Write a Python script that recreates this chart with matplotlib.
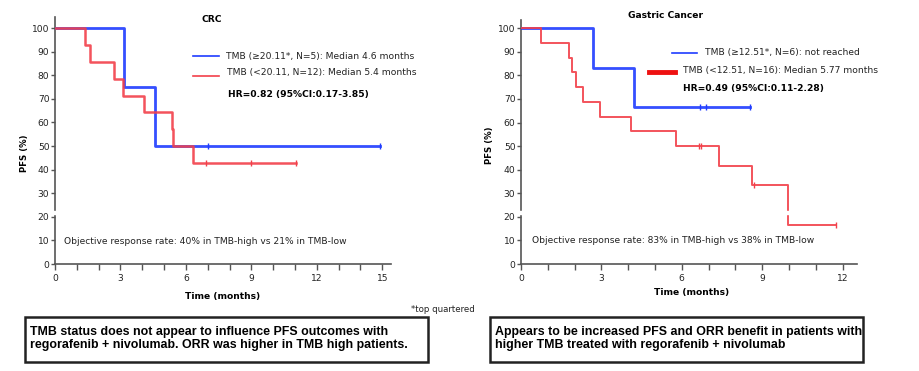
import numpy as np
import matplotlib.pyplot as plt
from matplotlib.patches import Rectangle

# ---------- data ----------
# CRC
crc_hi_t = [0, 3.15, 4.6, 14.9]
crc_hi_s = [100, 75, 50, 50]
crc_hi_cens = [7.0, 14.9]
crc_lo_t = [0, 1.38, 1.6, 2.72, 3.1, 4.1, 5.37, 5.43, 6.34, 11.04]
crc_lo_s = [100, 92.9, 85.7, 78.6, 71.4, 64.3, 57.1, 50, 42.9, 42.9]
crc_lo_cens = [6.9, 9.0, 11.04]

# Gastric
gc_hi_t = [0, 2.7, 4.23, 8.54]
gc_hi_s = [100, 83.3, 66.7, 66.7]
gc_hi_cens = [6.68, 6.89, 8.54]
gc_lo_t = [0, 0.73, 1.80, 1.89, 2.06, 2.30, 2.94, 4.10, 5.77, 7.39, 8.63, 9.96, 11.74]
gc_lo_s = [100, 93.75, 87.5, 81.25, 75, 68.75, 62.5, 56.25, 50, 41.7, 33.3, 16.7, 16.7]
gc_lo_cens = [6.66, 6.72, 8.7, 11.74]

crc_leg = ["TMB (\u226520.11*, N=5): Median 4.6 months",
           "TMB (<20.11, N=12): Median 5.4 months"]
crc_hr = "HR=0.82 (95%CI:0.17-3.85)"
crc_orr = "Objective response rate: 40% in TMB-high vs 21% in TMB-low"
gc_leg = ["TMB (\u226512.51*, N=6): not reached",
          "TMB (<12.51, N=16): Median 5.77 months"]
gc_hr = "HR=0.49 (95%CI:0.11-2.28)"
gc_orr = "Objective response rate: 83% in TMB-high vs 38% in TMB-low"
box_left = "TMB status does not appear to influence PFS outcomes with\nregorafenib + nivolumab. ORR was higher in TMB high patients."
box_right = "Appears to be increased PFS and ORR benefit in patients with\nhigher TMB treated with regorafenib + nivolumab"

BLUE = "#1f3cff"
RED = "#f2404a"
W, H = 919, 371
FS = 6.6
plt.rcParams['font.family'] = "DejaVu Sans"

fig = plt.figure(figsize=(W / 100, H / 100), dpi=100)


def px(x, y):
    """pixel coords (from top-left) -> figure fraction"""
    return x / W, 1 - y / H


def surv_at(t, ts, ss):
    i = np.searchsorted(ts, t, side='right') - 1
    return ss[i]


def km_panel(rect, xmax, ymax, xticks, hi, lo, lw_lo):
    ax = fig.add_axes(rect)
    for (t, s, cens), col, lw in [(hi, BLUE, 2.0), (lo, RED, lw_lo)]:
        ax.step(t, s, where='post', color=col, lw=lw, alpha=0.9, zorder=4)
        cy = [surv_at(c, t, s) for c in cens]
        ax.plot(cens, cy, ls='none', marker='|', ms=4, mew=1, color=col, zorder=4)
    ax.set_xlim(0, xmax)
    ax.set_ylim(0, ymax)
    ax.set_xticks(xticks)
    ax.set_xticks(np.arange(0, xmax, 1), minor=True)
    ax.set_yticks(np.arange(0, 101, 10))
    for sp in ['top', 'right']:
        ax.spines[sp].set_visible(False)
    for sp in ['left', 'bottom']:
        ax.spines[sp].set_color('#555555')
        ax.spines[sp].set_linewidth(1.2)
    ax.tick_params(axis='x', which='both', direction='out', length=4, width=1,
                   color='#555555', labelsize=FS, pad=3, labelcolor='#222222')
    ax.tick_params(axis='y', direction='out', length=3, width=1,
                   color='#555555', labelsize=FS, pad=1, labelcolor='#222222')
    # axis break near 20
    ax.axhspan(21, 22.4, xmin=-0.02, xmax=1, color='white', zorder=5, clip_on=False)
    return ax


ax1 = km_panel([55 / W, 1 - 264 / H, 336 / W, 247 / H], 15.4, 104.7,
               [0, 3, 6, 9, 12, 15],
               (crc_hi_t, crc_hi_s, crc_hi_cens),
               (crc_lo_t, crc_lo_s, crc_lo_cens), 1.8)
ax2 = km_panel([521 / W, 1 - 264 / H, 336 / W, 244 / H], 12.54, 103.5,
               [0, 3, 6, 9, 12],
               (gc_hi_t, gc_hi_s, gc_hi_cens),
               (gc_lo_t, gc_lo_s, gc_lo_cens), 1.4)

ax1.text(0.4, 9.4, crc_orr, fontsize=FS, va='center', color='#222222')
ax2.text(0.41, 9.8, gc_orr, fontsize=FS, va='center', color='#222222')

# titles and axis labels
fig.text(*px(212, 19), "CRC", fontsize=FS, weight='bold', ha='center', va='center')
fig.text(*px(665, 16), "Gastric Cancer", fontsize=FS, weight='bold', ha='center', va='center')
fig.text(*px(223, 296), "Time (months)", fontsize=FS, weight='bold', ha='center', va='center')
fig.text(*px(692, 293), "Time (months)", fontsize=FS, weight='bold', ha='center', va='center')
fig.text(*px(24, 153), "PFS (%)", fontsize=6.2, weight='bold', rotation=90, ha='center', va='center')
fig.text(*px(489, 145), "PFS (%)", fontsize=6.2, weight='bold', rotation=90, ha='center', va='center')

# legends
fig.add_artist(plt.Line2D([193 / W, 219 / W], [1 - 56 / H] * 2, color=BLUE, lw=1.2))
fig.add_artist(plt.Line2D([193 / W, 219 / W], [1 - 76 / H] * 2, color=RED, lw=1.2))
fig.text(*px(226, 56), crc_leg[0], fontsize=FS, va='center', color='#222222')
fig.text(*px(227, 72), crc_leg[1], fontsize=FS, va='center', color='#222222')
fig.text(*px(228, 94), crc_hr, fontsize=FS, weight='bold', va='center')

fig.add_artist(plt.Line2D([672 / W, 697 / W], [1 - 53 / H] * 2, color=BLUE, lw=1.2))
fig.add_artist(plt.Line2D([649 / W, 675 / W], [1 - 72 / H] * 2, color='#ee1111', lw=3.5))
fig.text(*px(705, 53), gc_leg[0], fontsize=FS, va='center', color='#222222')
fig.text(*px(683, 70), gc_leg[1], fontsize=FS, va='center', color='#222222')
fig.text(*px(683, 88), gc_hr, fontsize=FS, weight='bold', va='center')

fig.text(*px(411, 309), "*top quartered", fontsize=6.2, va='center', color='#222222')

# summary boxes
for (x0, x1), txt in [((25, 428), box_left), ((490, 863), box_right)]:
    fig.add_artist(Rectangle(px(x0, 362), (x1 - x0) / W, 45 / H, transform=fig.transFigure,
                             fill=False, ec='#222222', lw=1.8))
    fig.text(*px(x0 + 5, 338.5), txt, fontsize=8.9, weight='bold', va='center',
             linespacing=1.05, family='Liberation Sans')

fig.savefig("out.png", dpi=100)
